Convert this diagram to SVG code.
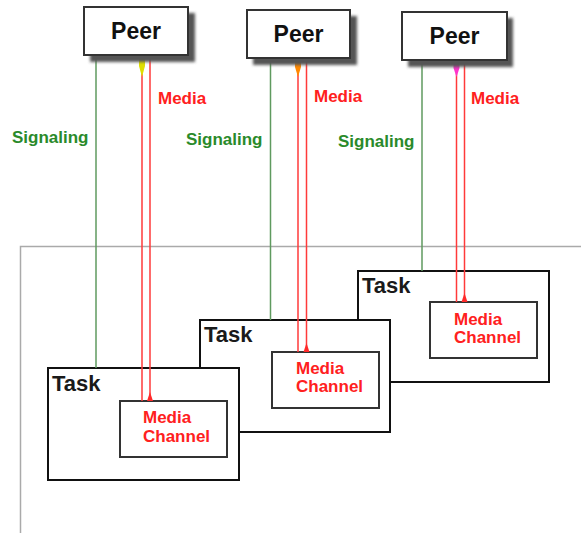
<svg xmlns="http://www.w3.org/2000/svg" width="581" height="533" viewBox="0 0 581 533">
<defs>
<filter id="sh" x="-20%" y="-20%" width="150%" height="150%"><feGaussianBlur stdDeviation="1.5"/></filter>
</defs>
<style>
.frame{fill:none;stroke:#aaaaaa;stroke-width:1.5}
.peer{fill:#ffffff;stroke:#333333;stroke-width:2}
.shadow{fill:#555555;filter:url(#sh)}
.task{fill:#ffffff;stroke:#111111;stroke-width:2}
.chan{fill:#ffffff;stroke:#333333;stroke-width:2}
.sig{stroke:#5f9a5f;stroke-width:1.5;fill:none}
.med{stroke:#ff3a3a;stroke-width:1.5;fill:none}
.ah{fill:#ff2a2a}
.t{font-family:"Liberation Sans",Arial,sans-serif;font-weight:bold}
.pt{font-size:23px;fill:#111111}
.tt{font-size:22px;fill:#1a1a1a}
.ct{font-size:17px;fill:#ff2020}
.sl{font-size:17px;fill:#2a8a2a}
.ml{font-size:17px;fill:#ff2020}
</style>
<path class="frame" d="M581,246.5 H20.5 V533"/>
<g id="task3">
<rect class="task" x="358" y="271" width="191" height="111"/>
<text class="t tt" x="362" y="293">Task</text>
</g>
<g id="channel3">
<rect class="chan" x="430" y="302" width="107" height="56"/>
<text class="t ct" x="454" y="325">Media</text>
<text class="t ct" x="454" y="343">Channel</text>
</g>
<g id="task2">
<rect class="task" x="200" y="320" width="190" height="112"/>
<text class="t tt" x="204" y="342">Task</text>
</g>
<g id="channel2">
<rect class="chan" x="272" y="352" width="107" height="56"/>
<text class="t ct" x="296" y="374">Media</text>
<text class="t ct" x="296" y="392">Channel</text>
</g>
<g id="task1">
<rect class="task" x="48" y="368" width="191" height="112"/>
<text class="t tt" x="52" y="391">Task</text>
</g>
<g id="channel1">
<rect class="chan" x="120" y="401" width="107" height="56"/>
<text class="t ct" x="143" y="423">Media</text>
<text class="t ct" x="143" y="442">Channel</text>
</g>
<g id="connectors">
<line class="sig" x1="96" y1="55" x2="96" y2="368"/>
<line class="med" x1="142" y1="55" x2="142" y2="401"/>
<line class="med" x1="150" y1="55" x2="150" y2="401"/>
<polygon class="ah" points="150,392 153,401 147,401"/>
<polygon fill="#dede00" points="139,57 145,57 145,66 142,77 139,66"/>
<line class="sig" x1="270.5" y1="58" x2="270.5" y2="320"/>
<line class="med" x1="298" y1="58" x2="298" y2="352"/>
<line class="med" x1="306.5" y1="58" x2="306.5" y2="352"/>
<polygon class="ah" points="306.5,343 309.5,352 303.5,352"/>
<polygon fill="#ff8800" points="295,59 301,59 301,67 298,77 295,67"/>
<line class="sig" x1="422" y1="60" x2="422" y2="271"/>
<line class="med" x1="456.5" y1="60" x2="456.5" y2="302"/>
<line class="med" x1="464.5" y1="60" x2="464.5" y2="302"/>
<polygon class="ah" points="464.5,293 467.5,302 461.5,302"/>
<polygon fill="#ff33cc" points="453.5,61 459.5,61 459.5,68 456.5,77 453.5,68"/>
<text class="t sl" x="12" y="143">Signaling</text>
<text class="t ml" x="158" y="104">Media</text>
<text class="t sl" x="186" y="145">Signaling</text>
<text class="t ml" x="314" y="102">Media</text>
<text class="t sl" x="338" y="147">Signaling</text>
<text class="t ml" x="471" y="104">Media</text>
</g>
<g id="peer1">
<rect class="shadow" x="90" y="13" width="105" height="49"/>
<rect class="peer" x="84" y="7" width="104" height="48"/>
<text class="t pt" x="136" y="39" text-anchor="middle">Peer</text>
</g>
<g id="peer2">
<rect class="shadow" x="253" y="16" width="104" height="49"/>
<rect class="peer" x="247" y="10" width="103" height="48"/>
<text class="t pt" x="298.5" y="42" text-anchor="middle">Peer</text>
</g>
<g id="peer3">
<rect class="shadow" x="408" y="18" width="105" height="49"/>
<rect class="peer" x="402" y="12" width="105" height="48"/>
<text class="t pt" x="454.5" y="44" text-anchor="middle">Peer</text>
</g>
</svg>
